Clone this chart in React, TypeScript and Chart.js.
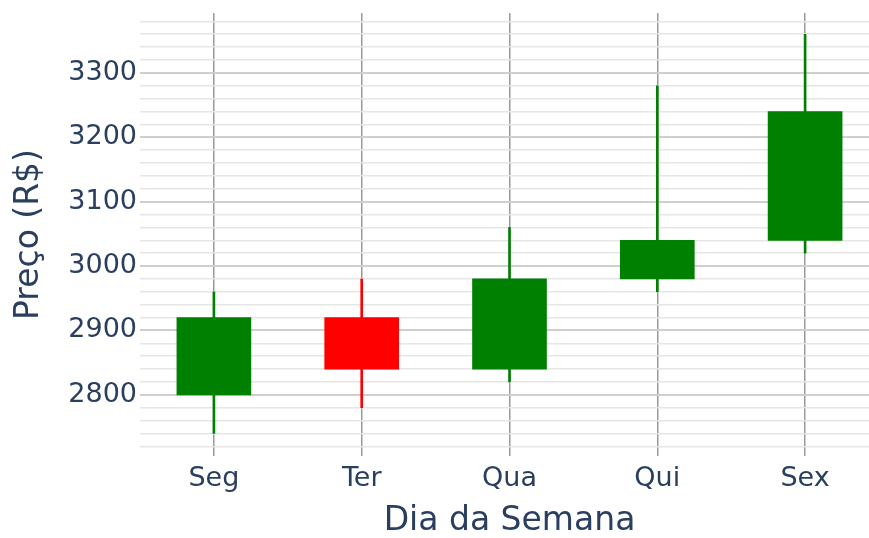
import React, { useEffect, useRef } from "react";
import { Chart, registerables } from "chart.js";

Chart.register(...registerables);

const categories = ["Seg", "Ter", "Qua", "Qui", "Sex"];
const openValues = [2800, 2920, 2840, 2980, 3040];
const closeValues = [2920, 2840, 2980, 3040, 3240];
const highValues = [2960, 2980, 3060, 3280, 3360];
const lowValues = [2740, 2780, 2820, 2960, 3020];
const yMajorTicks = [2800, 2900, 3000, 3100, 3200, 3300];
const yMinorStep = 20;
const yGridStart = 2720;
const yGridEnd = 3380;
const yMin = 2705;
const yMax = 3393;

const INC = "#008000";
const DEC = "#ff0000";
const FONT = "'DejaVu Sans', Verdana, sans-serif";
const TEXT = "#2a3f5f";

export default function App() {
  const ref = useRef<HTMLCanvasElement | null>(null);

  useEffect(() => {
    if (!ref.current) return;
    const colors = categories.map((_, i) =>
      closeValues[i] >= openValues[i] ? INC : DEC
    );
    const yTicks: number[] = [];
    for (let v = yGridStart; v <= yGridEnd; v += yMinorStep) yTicks.push(v);

    const chart = new Chart(ref.current, {
      type: "bar",
      data: {
        datasets: [
          {
            label: "wick",
            data: categories.map((_, i) => ({ x: i, y: [lowValues[i], highValues[i]] })) as any,
            backgroundColor: colors,
            barThickness: 2,
            grouped: false,
            borderWidth: 0,
            order: 2,
          } as any,
          {
            label: "body",
            data: categories.map((_, i) => ({ x: i, y: [openValues[i], closeValues[i]] })) as any,
            backgroundColor: colors,
            barThickness: 74,
            grouped: false,
            borderWidth: 0,
            order: 1,
          } as any,
        ],
      },
      options: {
        animation: false,
        responsive: false,
        maintainAspectRatio: false,
        layout: { autoPadding: false, padding: { left: 0, top: 13, right: 1, bottom: 0 } },
        plugins: {
          legend: { display: false },
          tooltip: { enabled: false },
          title: { display: false },
        },
        scales: {
          x: {
            type: "linear",
            min: -0.5,
            max: 4.5,
            offset: false,
            z: 0,
            afterBuildTicks: (scale: any) => {
              scale.ticks = categories.map((_, i) => ({ value: i }));
            },
            afterFit: (scale: any) => {
              scale.height = 82;
              scale.paddingLeft = 0;
              scale.paddingRight = 0;
            },
            ticks: {
              autoSkip: false,
              maxRotation: 0,
              padding: 7,
              color: TEXT,
              font: { family: FONT, size: 27 },
              callback: (v: any) => categories[Number(v)] ?? "",
            },
            grid: {
              offset: false,
              drawTicks: false,
              color: "#9a9a9a",
              lineWidth: 1.5,
            },
            border: { display: false },
            title: {
              display: true,
              text: "Dia da Semana",
              color: TEXT,
              font: { family: FONT, size: 33, lineHeight: 1 },
              padding: { top: 0, bottom: 0 },
            },
          },
          y: {
            type: "linear",
            min: yMin,
            max: yMax,
            z: -1,
            afterBuildTicks: (scale: any) => {
              scale.ticks = yTicks.map((v) => ({ value: v }));
            },
            afterFit: (scale: any) => {
              scale.width = 140;
              scale.paddingTop = 0;
              scale.paddingBottom = 0;
            },
            ticks: {
              autoSkip: false,
              padding: 3,
              color: TEXT,
              font: { family: FONT, size: 27 },
              callback: (v: any) => (yMajorTicks.includes(Number(v)) ? String(v) : ""),
            },
            grid: {
              drawTicks: false,
              color: (ctx: any) =>
                yMajorTicks.includes(ctx.tick?.value) ? "#cfcfcf" : "#e6e6e6",
              lineWidth: (ctx: any) => (yMajorTicks.includes(ctx.tick?.value) ? 2 : 1.5),
            },
            border: { display: false },
            title: {
              display: true,
              text: "Preço (R$)",
              color: TEXT,
              font: { family: FONT, size: 33, lineHeight: 1 },
              padding: { top: 13, bottom: 0 },
            },
          },
        },
      } as any,
    });
    return () => chart.destroy();
  }, []);

  return (
    <div
      style={{
        position: "absolute",
        left: 0,
        top: 0,
        width: 869,
        height: 538,
        overflow: "hidden",
        background: "#fff",
      }}
    >
      <canvas ref={ref} width={880} height={538} style={{ width: 880, height: 538, display: "block" }} />
    </div>
  );
}
